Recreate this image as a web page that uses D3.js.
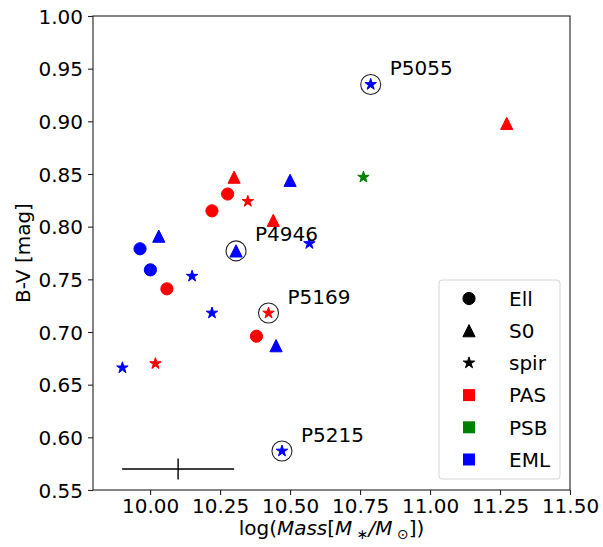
<!DOCTYPE html>
<html>
<head>
<meta charset="utf-8">
<script src="https://cdn.jsdelivr.net/npm/d3@7"></script>
<style>
  body { margin: 0; background: #fff; }
  svg { font-family: "DejaVu Sans", sans-serif; }
</style>
</head>
<body>
<svg class="chart" width="603" height="547"></svg>
<script>
// galaxy values
var mass  = [10.30, 10.50, 10.277, 10.349, 10.221, 10.44, 10.031, 9.964, 10.307, 10.788, 11.274, 10.762,
             10.569, 10.001, 10.15, 10.06, 10.221, 10.423, 10.38, 10.45, 9.901, 10.019, 10.471];
var bv    = [0.847, 0.844, 0.831, 0.824, 0.815, 0.806, 0.791, 0.779, 0.777, 0.935, 0.898, 0.847,
             0.784, 0.759, 0.753, 0.741, 0.718, 0.718, 0.696, 0.687, 0.666, 0.670, 0.587];
var morph = ["S0", "S0", "Ell", "spir", "Ell", "S0", "S0", "Ell", "S0", "spir", "S0", "spir",
             "spir", "Ell", "spir", "Ell", "spir", "spir", "Ell", "S0", "spir", "spir", "spir"];
var cls   = ["PAS", "EML", "PAS", "PAS", "PAS", "PAS", "EML", "EML", "EML", "EML", "PAS", "PSB",
             "EML", "EML", "EML", "PAS", "EML", "PAS", "PAS", "EML", "EML", "PAS", "EML"];

// circled & named galaxies
var labelNames = ["P5055", "P4946", "P5169", "P5215"];
var labelMass  = [10.788, 10.307, 10.423, 10.471];
var labelBV    = [0.935, 0.777, 0.718, 0.587];

// typical error bar
var errMass = [10.1], errBV = [0.57], errMassSize = [0.2], errBVSize = [0.01];

var morphTypes = ["Ell", "S0", "spir"];
var classTypes = ["PAS", "PSB", "EML"];
var classColors = ["#ff0000", "#008000", "#0000ff"];

var xTicks = [10.00, 10.25, 10.50, 10.75, 11.00, 11.25, 11.50];
var yTicks = [0.55, 0.60, 0.65, 0.70, 0.75, 0.80, 0.85, 0.90, 0.95, 1.00];

var svg = d3.select("svg.chart"),
    margin = {top: 16, right: 33, bottom: 57, left: 93},
    width = +svg.attr("width") - margin.left - margin.right,
    height = +svg.attr("height") - margin.top - margin.bottom;

var x = d3.scaleLinear().domain([9.796, 11.5]).range([0, width]),
    y = d3.scaleLinear().domain([0.55, 1.0]).range([height, 0]),
    color = d3.scaleOrdinal().domain(classTypes).range(classColors);

var fontSize = 20;

var g = svg.append("g")
    .attr("transform", "translate(" + margin.left + "," + margin.top + ")");

// marker shapes, matplotlib-ish (size = half width before edge stroke)
var markerR = {"Ell": 6.1, "S0": 6.1, "spir": 6.0};
function markerPath(type, r) {
    if (type === "Ell") return d3.symbol(d3.symbolCircle, Math.PI * r * r)();
    if (type === "S0") return "M0," + (-r) + "L" + r + "," + r + "L" + (-r) + "," + r + "Z";
    return d3.symbol(d3.symbolStar, r * r / 0.8908130915292852)();
}

var points = mass.map(function(m, i) {
    return {mass: m, bv: bv[i], morph: morph[i], cls: cls[i]};
});

// error bar
errMass.forEach(function(m, i) {
    var eb = g.append("g").attr("class", "errorbar").attr("stroke", "#000").attr("stroke-width", 1.4);
    eb.append("line")
        .attr("x1", x(m - errMassSize[i])).attr("x2", x(m + errMassSize[i]))
        .attr("y1", y(errBV[i])).attr("y2", y(errBV[i]));
    eb.append("line")
        .attr("x1", x(m)).attr("x2", x(m))
        .attr("y1", y(errBV[i] - errBVSize[i])).attr("y2", y(errBV[i] + errBVSize[i]));
});

g.selectAll(".pt")
    .data(points)
    .enter().append("path")
        .attr("class", "pt")
        .attr("d", function(d) { return markerPath(d.morph, markerR[d.morph]); })
        .attr("transform", function(d) { return "translate(" + x(d.mass) + "," + y(d.bv) + ")"; })
        .attr("fill", function(d) { return color(d.cls); })
        .attr("stroke", function(d) { return color(d.cls); })
        .attr("stroke-width", 1)
        .attr("stroke-linejoin", "round");

// rings round the named ones
g.selectAll(".ring")
    .data(labelNames)
    .enter().append("circle")
        .attr("class", "ring")
        .attr("cx", function(d, i) { return x(labelMass[i]); })
        .attr("cy", function(d, i) { return y(labelBV[i]); })
        .attr("r", 10)
        .attr("fill", "none")
        .attr("stroke", "#222")
        .attr("stroke-width", 1.1);

g.selectAll(".name")
    .data(labelNames)
    .enter().append("text")
        .attr("class", "name")
        .attr("x", function(d, i) { return x(labelMass[i]) + 19; })
        .attr("y", function(d, i) { return y(labelBV[i]) - 9.5; })
        .attr("font-size", fontSize)
        .attr("fill", "#000")
        .text(function(d) { return d; });

// frame
g.append("rect")
    .attr("width", width).attr("height", height)
    .attr("fill", "none").attr("stroke", "#222").attr("stroke-width", 1.1);

// axes
var xAxis = g.append("g")
    .attr("transform", "translate(0," + height + ")")
    .call(d3.axisBottom(x).tickValues(xTicks).tickFormat(d3.format(".2f")).tickSize(5).tickPadding(4));
var yAxis = g.append("g")
    .call(d3.axisLeft(y).tickValues(yTicks).tickFormat(d3.format(".2f")).tickSize(5).tickPadding(5));
[xAxis, yAxis].forEach(function(a) {
    a.select(".domain").remove();
    a.selectAll(".tick line").attr("stroke", "#222").attr("stroke-width", 1.1);
    a.selectAll(".tick text").attr("font-size", fontSize).attr("font-family", "DejaVu Sans").attr("fill", "#000");
});
xAxis.selectAll(".tick text").attr("dy", "0.72em");
yAxis.selectAll(".tick text").attr("dy", "0.36em");

// axis titles
var xl = svg.append("text")
    .attr("x", margin.left + width / 2)
    .attr("y", 535)
    .attr("text-anchor", "middle")
    .attr("font-size", fontSize)
    .attr("fill", "#000");
xl.append("tspan").text("log(");
xl.append("tspan").attr("font-style", "italic").text("Mass");
xl.append("tspan").text("[");
xl.append("tspan").attr("font-style", "italic").text("M");
xl.append("tspan").attr("font-size", 14).attr("dy", 4).text(" \u2217");
xl.append("tspan").attr("dy", -4).attr("font-style", "italic").text("/M");
xl.append("tspan").attr("font-size", 14).attr("dy", 4).text(" \u2299");
xl.append("tspan").attr("dy", -4).text("])");

svg.append("text")
    .attr("transform", "translate(30," + (margin.top + height / 2) + ") rotate(-90)")
    .attr("text-anchor", "middle")
    .attr("font-size", fontSize)
    .attr("fill", "#000")
    .text("B-V [mag]");

// legend
var legendItems = morphTypes.map(function(m) { return {label: m, shape: m, fill: "#000"}; })
    .concat(classTypes.map(function(c) { return {label: c, shape: "sq", fill: color(c)}; }));

var legend = svg.append("g").attr("transform", "translate(439,280)");
legend.append("rect")
    .attr("width", 121).attr("height", 199).attr("rx", 3)
    .attr("fill", "#fff").attr("fill-opacity", 0.8)
    .attr("stroke", "#d6d6d6").attr("stroke-width", 1);

var li = legend.selectAll(".li")
    .data(legendItems)
    .enter().append("g")
        .attr("class", "li")
        .attr("transform", function(d, i) { return "translate(30," + (18.5 + i * 32.2) + ")"; });
li.append("path")
    .attr("d", function(d) {
        if (d.shape === "sq") return "M-6,-6H6V6H-6Z";
        return markerPath(d.shape, markerR[d.shape]);
    })
    .attr("fill", function(d) { return d.fill; })
    .attr("stroke", function(d) { return d.shape === "sq" ? "none" : d.fill; })
    .attr("stroke-width", 1)
    .attr("stroke-linejoin", "round");
li.append("text")
    .attr("x", 40)
    .attr("dy", "0.36em")
    .attr("font-size", fontSize)
    .attr("fill", "#000")
    .text(function(d) { return d.label; });
</script>
</body>
</html>
